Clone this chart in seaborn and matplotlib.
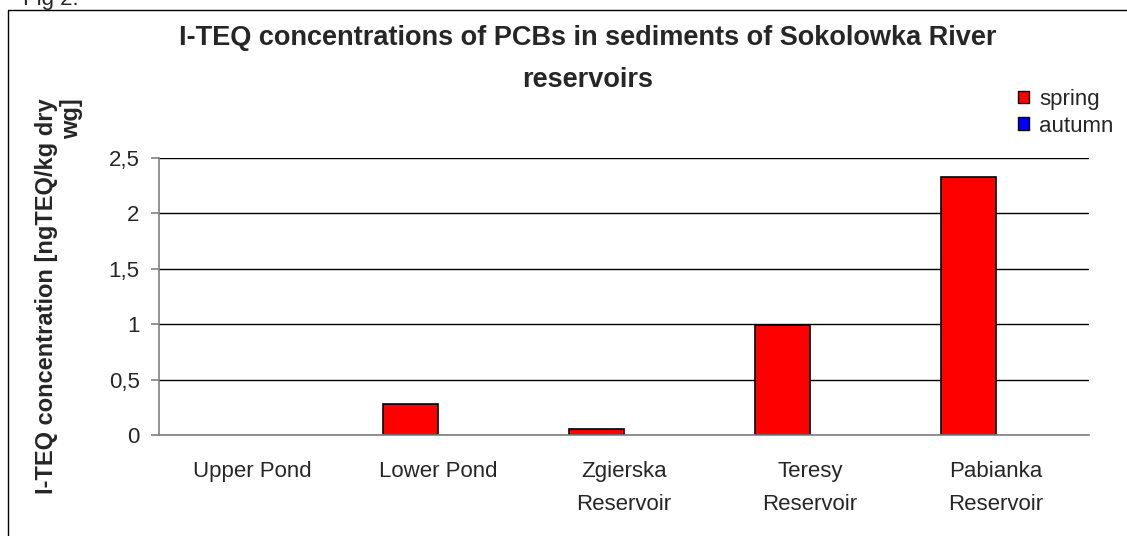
import matplotlib
matplotlib.use("Agg")
import matplotlib.pyplot as plt
import matplotlib.patches as mpatches
from matplotlib.ticker import FuncFormatter, FixedLocator
import seaborn as sns
import numpy as np
import pandas as pd

# values (ngTEQ/kg dry wg)
sites = ["Upper Pond", "Lower Pond", "Zgierska\nReservoir", "Teresy\nReservoir", "Pabianka\nReservoir"]
spring = [np.nan, 0.28, 0.05, 0.99, 2.33]
autumn = [np.nan, np.nan, np.nan, np.nan, np.nan]
seasons = ["spring", "autumn"]
season_colors = ["#FF0000", "#0000FF"]

df = pd.DataFrame({
    "site": sites * 2,
    "season": ["spring"] * len(sites) + ["autumn"] * len(sites),
    "value": spring + autumn,
})

sns.set_style("white")
plt.rcParams["font.family"] = ["Liberation Sans", "DejaVu Sans"]

fig = plt.figure(figsize=(11.27, 5.36), dpi=100)
ax = fig.add_axes([159 / 1127, 1 - 435 / 536, (1089 - 159) / 1127, (435 - 158) / 536])

sns.barplot(data=df, x="site", y="value", hue="season", order=sites, hue_order=seasons,
            palette=season_colors, width=0.59, edgecolor="black", linewidth=1.2,
            saturation=1, legend=False, ax=ax)

ax.set_xlim(-0.5, len(sites) - 0.5)
ax.set_ylim(0, 2.5)
ax.set_yticks(np.arange(0, 2.51, 0.5))
ax.yaxis.set_major_formatter(FuncFormatter(lambda v, p: f"{v:g}".replace(".", ",")))
ax.grid(axis="y", color="black", linewidth=1)
ax.set_axisbelow(True)

for s in ["top", "right"]:
    ax.spines[s].set_visible(False)
for s in ["left", "bottom"]:
    ax.spines[s].set_color("#808080")
    ax.spines[s].set_linewidth(1.2)

ax.xaxis.set_minor_locator(FixedLocator(np.arange(-0.5, len(sites), 1)))
ax.tick_params(axis="x", which="major", length=0, pad=19, labelsize=16)
ax.tick_params(axis="x", which="minor", length=6, width=1.2, color="#808080", direction="out")
ax.tick_params(axis="y", length=6, width=1.2, color="#808080", pad=8, labelsize=16, left=True)
for lab in ax.get_xticklabels():
    lab.set_linespacing(1.7)

ax.set_xlabel("")
ax.set_ylabel("I-TEQ concentration [ngTEQ/kg dry\nwg]", fontsize=17, fontweight="bold",
              linespacing=1.1, multialignment="right")
ax.yaxis.set_label_coords(-0.082, 0.5)

fig.text(588 / 1127, 1 - 25 / 536,
         "I-TEQ concentrations of PCBs in sediments of Sokolowka River\nreservoirs",
         ha="center", va="top", fontsize=19.5, fontweight="bold", linespacing=1.78)

handles = [mpatches.Patch(facecolor=c, edgecolor="black", linewidth=1) for c in season_colors]
fig.legend(handles, seasons, loc="upper left", bbox_to_anchor=(1018 / 1127, 1 - 89 / 536),
           frameon=False, fontsize=16, handlelength=0.5, handleheight=0.5,
           handletextpad=0.45, labelspacing=0.25, borderpad=0, borderaxespad=0)

# outer chart border (extends past the image on right and bottom)
fig.patches.append(mpatches.Rectangle((8 / 1127, -0.1), 1.2, 1.1 - 10 / 536,
                                      transform=fig.transFigure, fill=False,
                                      edgecolor="black", linewidth=1))
fig.text(23 / 1127, 1 - 5 / 536, "Fig 2.", ha="left", va="baseline", fontsize=16)

fig.savefig("out.png", dpi=100)
